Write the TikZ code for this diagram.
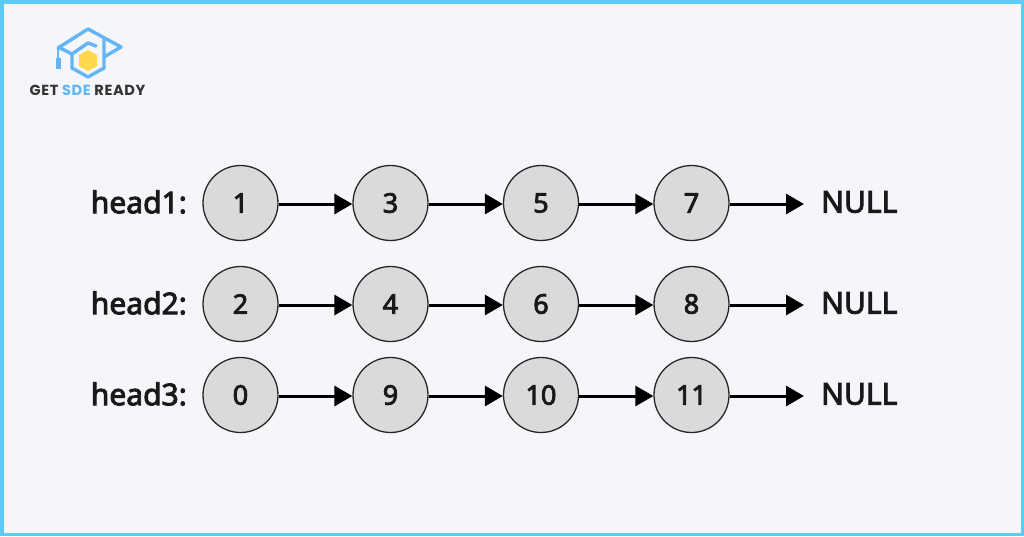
\documentclass[tikz,border=0pt]{standalone}
\usepackage{fontspec}
\setmainfont{Noto Sans}
\newfontfamily\labfont[FakeBold=3]{Noto Sans}
\newfontfamily\logofont{Poppins}[BoldFont=* Bold,LetterSpace=4]
\usetikzlibrary{arrows.meta}
\definecolor{bgc}{HTML}{F4F6F9}
\definecolor{framec}{HTML}{5CCBF5}
\definecolor{circc}{HTML}{DADADA}
\definecolor{logoblue}{HTML}{64B5F6}
\definecolor{logoyellow}{HTML}{FFD84D}
\definecolor{logodark}{HTML}{333333}
\tikzset{
  listnode/.style={circle,draw=black!85,fill=circc,line width=1.3pt,minimum size=75pt,inner sep=0pt,font=\labfont\fontsize{27}{27}\selectfont,text=black!90},
  headlab/.style={anchor=east,inner sep=0pt,font=\labfont\fontsize{30}{30}\selectfont,text=black!90},
  nulllab/.style={anchor=west,inner sep=0pt,font=\labfont\fontsize{30}{30}\selectfont,text=black!90},
  link/.style={line width=3pt,draw=black,-{Triangle[length=18pt,width=20pt]},shorten >=0pt},
  logoline/.style={draw=logoblue,line width=3.4pt,line join=round,line cap=round}
}
\begin{document}
\begin{tikzpicture}[x=1pt,y=-1pt]
\useasboundingbox (0,0) rectangle (1024,536);
\fill[framec] (0,0) rectangle (1024,536);
\fill[bgc] (3.5,3.5) rectangle (1020.5,532.5);
% logo
\draw[logoline] (58,48) -- (88,29) -- (121,47) -- (104,57);
\draw[logoline] (60,48) -- (72,54);
\draw[logoline] (72,54) -- (72,68) -- (88,77) -- (104,68) -- (104,38);
\draw[logoline] (72,54) -- (88,43) -- (96,46);
\draw[logoline,line width=2pt] (58,49) -- (58,58);
\fill[logoblue] (56,58) rectangle (61,69);
\fill[logoyellow] (88,50) -- (97,55) -- (97,66) -- (88,71) -- (79,66) -- (79,55) -- cycle;
\node (logotext) at (87.5,90) [inner sep=0pt,font=\logofont\bfseries\fontsize{14.6}{15}\selectfont,text=logodark] {GET \textcolor{logoblue}{SDE} READY};
\foreach \r/\y/\a/\b/\c/\d in {1/203/1/3/5/7,2/304/2/4/6/8,3/395/0/9/10/11}{
  \node[headlab] (h\r) at (187,\y-1) {head\r:};
  \node[listnode] (n\r a) at (240.5,\y) {\a};
  \node[listnode] (n\r b) at (390.5,\y) {\b};
  \node[listnode] (n\r c) at (541,\y) {\c};
  \node[listnode] (n\r d) at (691.5,\y) {\d};
  \node[nulllab] (null\r) at (821,\y-1) {NULL};
  \coordinate (e\r) at (804,\y+1);
  \draw[link] ([yshift=-1pt]n\r a.east) -- ([yshift=-1pt]n\r b.west);
  \draw[link] ([yshift=-1pt]n\r b.east) -- ([yshift=-1pt]n\r c.west);
  \draw[link] ([yshift=-1pt]n\r c.east) -- ([yshift=-1pt]n\r d.west);
  \draw[link] ([yshift=-1pt]n\r d.east) -- (e\r);
}
\end{tikzpicture}
\end{document}
